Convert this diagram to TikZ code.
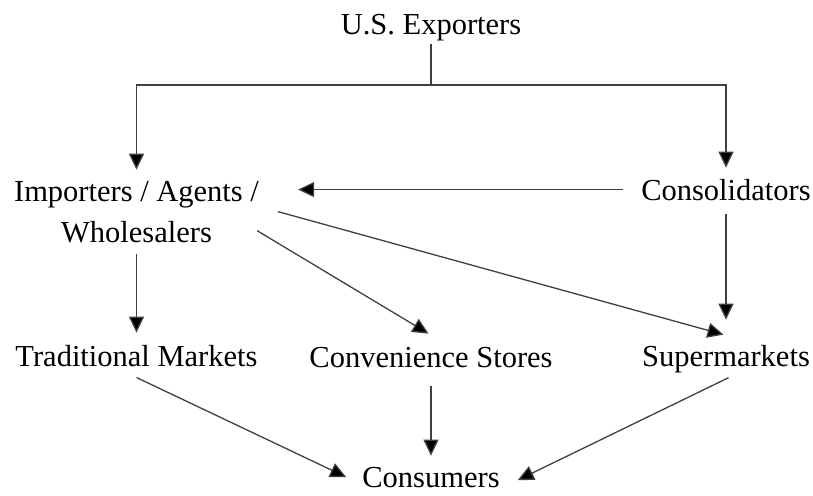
\documentclass[tikz,border=0pt]{standalone}
\usepackage{fontspec}
\setmainfont{Liberation Serif}
\usetikzlibrary{arrows.meta}
\begin{document}
\begin{tikzpicture}[x=1pt,y=-1pt,
  label/.style={inner sep=0pt,anchor=base,align=center,
    font=\fontsize{30.5}{41}\selectfont},
  link/.style={draw=black!75,line width=1.3pt},
  flow/.style={link,-{Triangle[length=16pt,width=15pt,fill=black]}}]
  % canvas
  \fill[white] (0,0) rectangle (813,495);
  \useasboundingbox (0,0) rectangle (813,495);

  % stages of the channel
  \node[label] (exp)  at (431,35)    {U.S. Exporters};
  \node[label] (imp)  at (136.5,242) {Importers / Agents /\\Wholesalers};
  \node[label] (con)  at (726,200)   {Consolidators};
  \node[label] (trad) at (136.5,366) {Traditional Markets};
  \node[label] (conv) at (431,367)   {Convenience Stores};
  \node[label] (sup)  at (726,366)   {Supermarkets};
  \node[label] (cons) at (431,487)   {Consumers};

  % exporters split into two branches
  \coordinate (split) at (exp.south |- 0,85);
  \draw[link] ([yshift=-2pt]exp.south) -- (split);
  \draw[flow] (split) -| ([yshift=11pt]imp.north);
  \draw[flow] (split) -| ([yshift=11pt]con.north);

  % consolidators
  \draw[flow] ([xshift=-18pt]con.west) -- ([xshift=39pt]imp.east |- con.west);
  \draw[flow] ([yshift=-13pt]con.south) -- ([yshift=25pt]sup.north);

  % importers / agents / wholesalers
  \draw[flow] ([yshift=-11pt]imp.south) -- ([yshift=12pt]trad.north);
  \draw[flow] ([xshift=-2pt,yshift=-19pt]imp.east) -- ([xshift=-2.5pt,yshift=13pt]conv.north);
  \draw[flow] ([xshift=19pt]imp.east) -- ([xshift=-2.5pt,yshift=10pt]sup.north);

  % retail outlets to consumers
  \draw[flow] ([yshift=-11pt]trad.south) -- ([xshift=-16pt]cons.west);
  \draw[flow] ([yshift=-18pt]conv.south) -- ([yshift=11pt]cons.north);
  \draw[flow] ([xshift=2.5pt,yshift=-5pt]sup.south) -- ([xshift=18pt,yshift=-3pt]cons.east);
\end{tikzpicture}
\end{document}
